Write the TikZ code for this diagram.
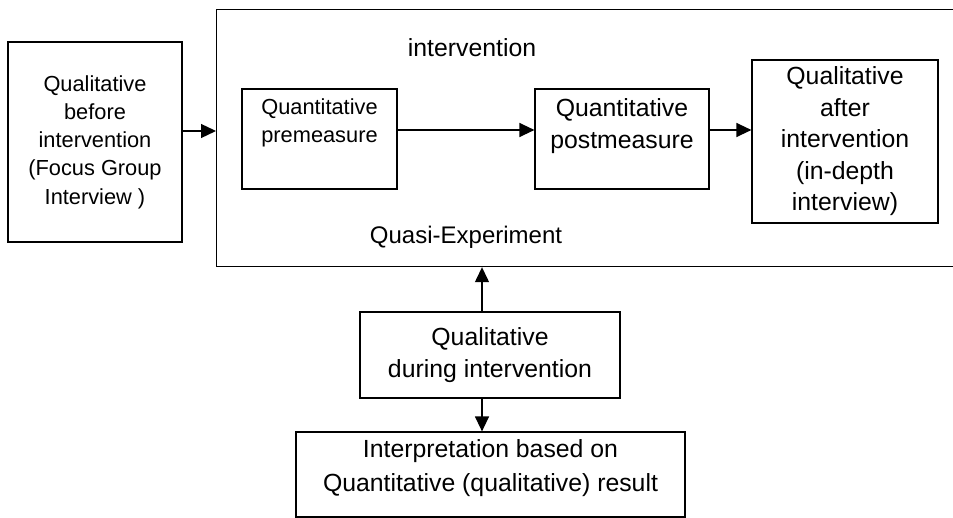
\documentclass[tikz,border=0pt]{standalone}
\usepackage{fontspec}
\setmainfont{Liberation Sans}
\usetikzlibrary{arrows.meta}
\begin{document}
\begin{tikzpicture}[x=1pt,y=-1pt,
  box/.style={draw=black, line width=1.2pt, inner sep=0pt},
  small/.style={font=\fontsize{21.8}{28.3}\selectfont, align=center, inner sep=0pt},
  big/.style={font=\fontsize{24.8}{31.5}\selectfont, align=center, inner sep=0pt},
  arr/.style={line width=1.3pt, -{Triangle[length=15pt,width=14pt]}}]
\useasboundingbox (0,0) rectangle (953,518);
% main frame (right side runs off the page)
\node[box, anchor=north west, minimum width=770pt, minimum height=257pt] (frame) at (216,9) {};
\node[big] (lblint) at (472,48) {intervention};
\node[big, font=\fontsize{24}{30}\selectfont] (lblqe) at (466,237) {Quasi-Experiment};
% left box
\node[box, small, minimum width=174pt, minimum height=200pt] (before) at (95,142)
  {Qualitative\\before\\intervention\\(Focus Group\\Interview )};
% premeasure
\node[box, minimum width=155pt, minimum height=100pt] (pre) at (319.5,139) {};
\node[small] (pretxt) at ([yshift=16pt]pre.center) {Quantitative\\premeasure};
% postmeasure
\node[box, minimum width=174pt, minimum height=100pt] (post) at (622,139) {};
\node[big] (posttxt) at ([yshift=13pt]post.center) {Quantitative\\postmeasure};
% after
\node[box, big, minimum width=186pt, minimum height=163pt] (after) at (845,141.5)
  {Qualitative\\after\\intervention\\(in-depth\\interview)};
% during
\node[box, big, minimum width=260pt, minimum height=86pt] (during) at (490,355)
  {Qualitative\\during intervention};
% interpretation
\node[box, minimum width=389pt, minimum height=85pt] (interp) at (490.5,474.5) {};
\node[big, font=\fontsize{24.8}{34}\selectfont] (interptxt) at ([yshift=6pt]interp.center)
  {Interpretation based on\\Quantitative (qualitative) result};
% connectors
\draw[arr] ([yshift=11pt]before.east) -- ([yshift=11pt]before.east -| frame.west);
\draw[arr] ([yshift=9pt]pre.east) -- ([yshift=9pt]pre.east -| post.west);
\draw[arr] ([yshift=9pt]post.east) -- ([yshift=9pt]post.east -| after.west);
\draw[arr] ([xshift=-8pt]during.north) -- ([xshift=-8pt]during.north |- frame.south);
\draw[arr] ([xshift=-8pt]during.south) -- ([xshift=-8pt]during.south |- interp.north);
\end{tikzpicture}
\end{document}
